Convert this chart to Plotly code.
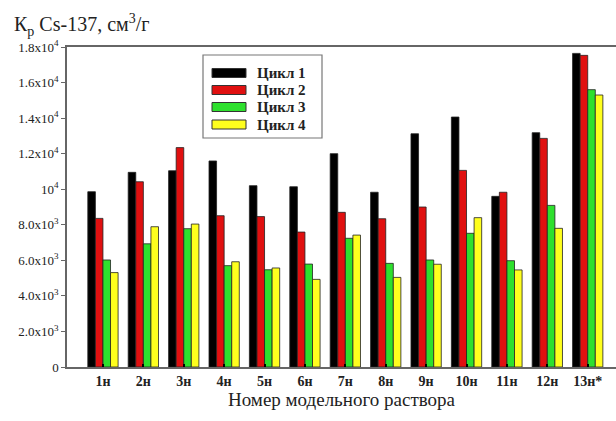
import plotly.graph_objects as go

categories = ["1н", "2н", "3н", "4н", "5н", "6н", "7н", "8н", "9н", "10н", "11н", "12н", "13н*"]
cycle1 = [9860, 10950, 11040, 11590, 10200, 10140, 12000, 9830, 13120, 14060, 9600, 13180, 17640]
cycle2 = [8360, 10420, 12340, 8510, 8460, 7590, 8700, 8340, 9000, 11060, 9830, 12860, 17530]
cycle3 = [6020, 6930, 7780, 5700, 5470, 5790, 7240, 5830, 6020, 7520, 5980, 9090, 15600]
cycle4 = [5310, 7890, 8040, 5920, 5570, 4930, 7420, 5040, 5780, 8400, 5460, 7800, 15300]
series_names = ["Цикл 1", "Цикл 2", "Цикл 3", "Цикл 4"]
series_colors = ["#000000", "#e01010", "#2ee02e", "#ffff1e"]

y_tickvals = [0, 2000, 4000, 6000, 8000, 10000, 12000, 14000, 16000, 18000]
y_ticktext = ["0", "2.0x10<sup>3</sup>", "4.0x10<sup>3</sup>", "6.0x10<sup>3</sup>",
              "8.0x10<sup>3</sup>", "10<sup>4</sup>", "1.2x10<sup>4</sup>",
              "1.4x10<sup>4</sup>", "1.6x10<sup>4</sup>", "1.8x10<sup>4</sup>"]

serif = "Liberation Serif"

fig = go.Figure()
for name, vals, col in zip(series_names, [cycle1, cycle2, cycle3, cycle4], series_colors):
    fig.add_trace(go.Bar(
        x=categories, y=vals, name=name, showlegend=False,
        marker=dict(color=col, line=dict(color="#222222", width=0.8)),
    ))

# Legend drawn as a framed box with wide colour swatches (paper coordinates)
W, H = 549.0, 320.0
def px(x):
    return (x - 67) / W
def py(y):
    return 1 - (y - 47) / H

fig.add_shape(type="rect", xref="paper", yref="paper",
              x0=px(203), x1=px(322), y0=py(138), y1=py(55),
              line=dict(color="#777777", width=1.2), fillcolor="white", layer="above")
row_y = [73, 90, 107, 124.5]
for name, col, ry in zip(series_names, series_colors, row_y):
    fig.add_shape(type="rect", xref="paper", yref="paper",
                  x0=px(212), x1=px(246), y0=py(ry + 4.5), y1=py(ry - 4.5),
                  line=dict(color="#333333", width=1), fillcolor=col, layer="above")
    fig.add_annotation(text=name, xref="paper", yref="paper",
                       x=px(255), y=py(ry), xanchor="left", yanchor="middle",
                       showarrow=False,
                       font=dict(family=serif, size=15, color="#222222", weight="bold"))

fig.update_layout(
    width=616, height=421,
    margin=dict(l=67, r=0, t=47, b=54),
    paper_bgcolor="white", plot_bgcolor="white",
    barmode="group", bargap=0.25, bargroupgap=0.0,
    font=dict(family=serif, color="#222222", size=13),
    showlegend=False,
    xaxis=dict(
        type="category",
        range=[-0.89, 12.7],
        showline=True, linecolor="#666666", linewidth=1.5, mirror=True,
        ticks="inside", ticklen=3, tickcolor="#000000", tickwidth=2,
        tickfont=dict(family=serif, size=14, color="#222222", weight="bold"),
        title=dict(text="Номер модельного раствора",
                   font=dict(family=serif, size=19, color="#222222"), standoff=4),
        showgrid=False,
    ),
    yaxis=dict(
        range=[0, 18000],
        tickvals=y_tickvals, ticktext=y_ticktext,
        showline=True, linecolor="#666666", linewidth=1.5, mirror=False,
        ticks="outside", ticklen=4, tickcolor="#666666",
        tickfont=dict(family=serif, size=13, color="#222222"),
        showgrid=False, zeroline=False,
    ),
)

fig.add_annotation(
    text="К<sub>р</sub> Cs-137, см<sup>3</sup>/г",
    xref="paper", yref="paper", x=-0.1, y=1.0, xanchor="left", yanchor="bottom",
    yshift=6, showarrow=False,
    font=dict(family=serif, size=20, color="#222222"),
)

fig.write_html("out.html")
